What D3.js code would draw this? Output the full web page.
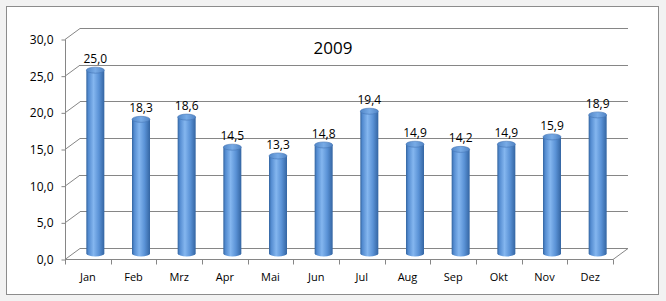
<!DOCTYPE html>
<html>
<head>
<meta charset="utf-8">
<script src="https://cdn.jsdelivr.net/npm/d3@7"></script>
<style>
  body { margin: 0; background: #f2f2f2; }
  text { font-family: "Open Sans", "DejaVu Sans", sans-serif; fill: #000; }
</style>
</head>
<body>
<svg id="chart" width="666" height="301"></svg>
<script>
// values
const months = ["Jan", "Feb", "Mrz", "Apr", "Mai", "Jun", "Jul", "Aug", "Sep", "Okt", "Nov", "Dez"];
const values = [25.0, 18.3, 18.6, 14.5, 13.3, 14.8, 19.4, 14.9, 14.2, 14.9, 15.9, 18.9];
const yTicks = [0, 5, 10, 15, 20, 25, 30];
const title = "2009";

const plotL = 65, plotR = 613, plotB = 259, plotT = 39;
const dx = 15, dy = -11;   // depth offset of the back wall
const gridColor = "#868686";

const svg = d3.select("#chart");
const fmt = v => d3.format(".1f")(v).replace(".", ",");

// chart area
svg.append("rect")
  .attr("x", 6.5).attr("y", 6.5)
  .attr("width", 652).attr("height", 288)
  .attr("fill", "#fff")
  .attr("stroke", "#8c8c8c");

const x = d3.scaleBand().domain(months).range([plotL, plotR]);
const y = d3.scaleLinear().domain([0, 30]).range([plotB, plotT]);

// back wall gridlines + side wall diagonals
const grid = svg.append("g").attr("stroke", gridColor).attr("fill", "none");
yTicks.forEach(t => {
  grid.append("line")
    .attr("x1", plotL + dx).attr("x2", plotR + dx)
    .attr("y1", Math.round(y(t) + dy) + 0.5).attr("y2", Math.round(y(t) + dy) + 0.5);
  grid.append("line")
    .attr("x1", plotL).attr("y1", y(t) + 0.5)
    .attr("x2", plotL + dx).attr("y2", y(t) + dy + 0.5);
});
// floor right diagonal
grid.append("line").attr("x1", plotR).attr("y1", plotB + 0.5)
  .attr("x2", plotR + dx).attr("y2", plotB + dy + 0.5);

// axes
const yAxis = d3.axisLeft(y).tickValues(yTicks).tickFormat(fmt).tickSize(4).tickPadding(8);
const gy = svg.append("g").attr("transform", "translate(" + (plotL + 0.5) + ",0.5)").call(yAxis);
gy.selectAll("path, line").attr("stroke", gridColor);
gy.selectAll("text").style("font-size", "12px");
gy.select(".domain").attr("d", "M0," + plotT + "V" + plotB);

const xAxis = d3.axisBottom(x).tickSize(0).tickPadding(14);
const gx = svg.append("g").attr("transform", "translate(0," + (plotB + 0.5) + ")").call(xAxis);
gx.select(".domain").attr("stroke", gridColor).attr("d", "M" + plotL + ",0H" + plotR);
gx.selectAll("text").style("font-size", "11px");
const bounds = d3.range(months.length + 1).map(i => plotL + i * x.bandwidth());
gx.selectAll(".bound").data(bounds).enter().append("line")
  .attr("class", "bound")
  .attr("x1", d => Math.round(d) + 0.5).attr("x2", d => Math.round(d) + 0.5)
  .attr("y1", 0).attr("y2", 5)
  .attr("stroke", gridColor);

// cylinder gradients
const defs = svg.append("defs");
const side = defs.append("linearGradient").attr("id", "side").attr("x1", 0).attr("x2", 1);
[[0, "#33649f"], [0.12, "#538bd0"], [0.4, "#84b6ef"], [0.7, "#5a92d6"], [1, "#3465a2"]]
  .forEach(([o, c]) => side.append("stop").attr("offset", o).attr("stop-color", c));
const cap = defs.append("linearGradient").attr("id", "cap").attr("x1", 0).attr("x2", 1);
[[0, "#5287c8"], [0.5, "#78abe6"], [1, "#5184c4"]]
  .forEach(([o, c]) => cap.append("stop").attr("offset", o).attr("stop-color", c));

const bw = 18, ry = 3;
const cx = d => x(d) + x.bandwidth() / 2 + dx / 2;
const cy = v => y(v) + dy / 2;

const bars = svg.append("g").selectAll("g").data(months).enter().append("g");
bars.append("path")
  .attr("d", (d, i) => {
    const x0 = cx(d) - bw / 2, x1 = cx(d) + bw / 2;
    const yt = cy(values[i]), yb = cy(0);
    return "M" + x0 + "," + yt + "V" + yb + "A" + (bw / 2) + "," + ry + " 0 0 0 " + x1 + "," + yb + "V" + yt + "Z";
  })
  .attr("fill", "url(#side)");
bars.append("ellipse")
  .attr("cx", d => cx(d))
  .attr("cy", (d, i) => cy(values[i]))
  .attr("rx", bw / 2).attr("ry", ry)
  .attr("fill", "url(#cap)")
  .attr("stroke", "#4476b5").attr("stroke-width", 0.6);

// value labels
bars.append("text")
  .attr("x", d => cx(d))
  .attr("y", (d, i) => cy(values[i]) - 7)
  .attr("text-anchor", "middle")
  .style("font-size", "12px")
  .text((d, i) => fmt(values[i]));

svg.append("text")
  .attr("x", 333).attr("y", 54)
  .attr("text-anchor", "middle")
  .style("font-size", "17px")
  .text(title);
</script>
</body>
</html>
